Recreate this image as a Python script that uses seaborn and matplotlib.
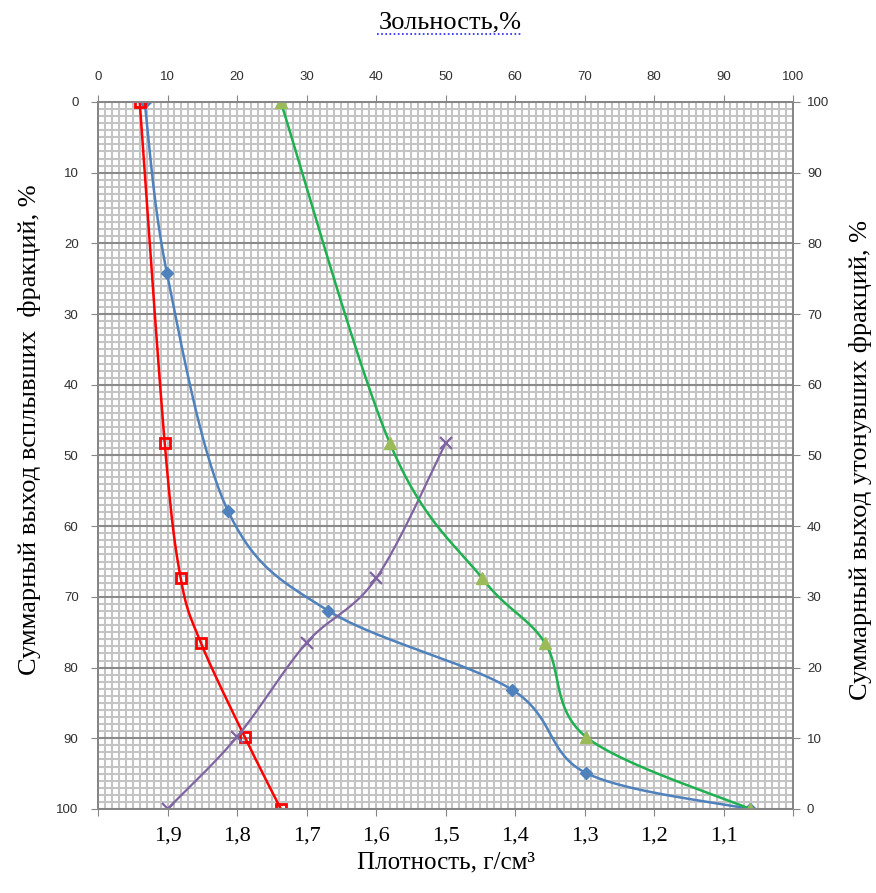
import numpy as np
import matplotlib
matplotlib.use("Agg")
import matplotlib.pyplot as plt
from matplotlib.ticker import MultipleLocator, FixedLocator, FixedFormatter
from matplotlib.lines import Line2D
import seaborn as sns

# cumulative floats yield, %
floats_yield = [0, 48.3, 67.4, 76.5, 89.8, 100]
# cumulative ash of floats (beta), %
floats_ash = [6.0, 9.6, 11.9, 14.8, 21.1, 26.3]
# elementary ash (lambda), plotted at fraction midpoints
elem_yield = [0, 24.15, 57.85, 71.95, 83.15, 94.9, 100]
elem_ash = [6.7, 9.9, 18.7, 33.1, 59.6, 70.2, 93.8]
# cumulative sinks yield and ash (theta)
sinks_yield = [100, 51.7, 32.6, 23.5, 10.2, 0]
sinks_ash = [26.3, 42.0, 55.3, 64.3, 70.2, 93.8]
# density curve (delta)
dens = [1.9, 1.8, 1.7, 1.6, 1.5]
dens_yield = [100, 89.8, 76.5, 67.4, 48.3]

top_ticks = list(range(0, 101, 10))
dens_ticks = [2.0, 1.9, 1.8, 1.7, 1.6, 1.5, 1.4, 1.3, 1.2, 1.1, 1.0]
dens_labels = ['', '1,9', '1,8', '1,7', '1,6', '1,5', '1,4', '1,3', '1,2', '1,1', '']

SERIF = ['Liberation Serif', 'DejaVu Serif']
SANS = ['Liberation Sans', 'DejaVu Sans']
SPINE = '#868686'


def smooth(x, y, n=40):
    # Excel-like smoothed line (Catmull-Rom through the points)
    p = np.column_stack([x, y]).astype(float)
    p = np.vstack([p[0], p, p[-1]])
    out = []
    t = np.linspace(0, 1, n)[:, None]
    for i in range(1, len(p) - 2):
        p0, p1, p2, p3 = p[i - 1], p[i], p[i + 1], p[i + 2]
        c1 = p1 + (p2 - p0) / 6
        c2 = p2 - (p3 - p1) / 6
        seg = (1 - t) ** 3 * p1 + 3 * (1 - t) ** 2 * t * c1 + 3 * (1 - t) * t ** 2 * c2 + t ** 3 * p2
        out.append(seg if i == 1 else seg[1:])
    s = np.vstack(out)
    return s[:, 0], s[:, 1]


fig = plt.figure(figsize=(8.76, 8.93), dpi=100)
ax = fig.add_axes([0.1119, 0.0941, 0.7934, 0.7917])
ax_d = ax.twiny()   # density axis (bottom)
ax_s = ax.twinx()   # sinks yield axis (right)

# elementary ash - blue
bx, by = smooth(elem_ash, elem_yield)
sns.lineplot(x=bx, y=by, sort=False, estimator=None, ax=ax, color='#4f81bd', lw=1.8)
ax.plot(elem_ash, elem_yield, 'D', color='#4f81bd', ms=6)

# floats ash - red
rx, ry = smooth(floats_ash, floats_yield)
sns.lineplot(x=rx, y=ry, sort=False, estimator=None, ax=ax, color='#ff0000', lw=1.8)
ax.plot(floats_ash, floats_yield, 's', mfc='none', mec='#ff0000', mew=2, ms=7)

# sinks ash - green
gx, gy = smooth(sinks_ash, sinks_yield)
sns.lineplot(x=gx, y=gy, sort=False, estimator=None, ax=ax_s, color='#1fb050', lw=1.8)
ax_s.plot(sinks_ash, sinks_yield, '^', color='#9bbb59', ms=9)

# density - purple
px, py = smooth(dens, dens_yield)
sns.lineplot(x=px, y=py, sort=False, estimator=None, ax=ax_d, color='#8064a2', lw=1.6)
ax_d.plot(dens, dens_yield, 'x', color='#8064a2', ms=9, mew=1.6)

# limits
ax.set_xlim(0, 100)
ax.set_ylim(100, 0)
ax_d.set_xlim(2.0, 1.0)
ax_s.set_ylim(0, 100)

# grid
ax.xaxis.set_minor_locator(MultipleLocator(1))
ax.yaxis.set_minor_locator(MultipleLocator(1))
ax.grid(which='minor', color='#c4c4c4', lw=1.5)
ax.grid(which='major', axis='x', color='#c4c4c4', lw=1.5)
ax.grid(which='major', axis='y', color='#8a8a8a', lw=1.5)
ax.set_axisbelow(True)
ax_d.grid(False)
ax_s.grid(False)

# top ash axis
ax.xaxis.tick_top()
ax.set_xticks(top_ticks)
ax.tick_params(axis='x', which='major', direction='out', length=5, color=SPINE,
               labelsize=9.5, pad=9, labelcolor='#303030')
ax.tick_params(axis='y', which='major', direction='out', length=5, color=SPINE,
               labelsize=9.5, pad=9, labelcolor='#303030')
ax.tick_params(which='minor', length=0)
ax.set_yticks(top_ticks)
for lab in ax.get_xticklabels() + ax.get_yticklabels():
    lab.set_family(SANS)

# bottom density axis
ax_d.xaxis.tick_bottom()
ax_d.xaxis.set_label_position('bottom')
ax_d.xaxis.set_major_locator(FixedLocator(dens_ticks))
ax_d.xaxis.set_major_formatter(FixedFormatter(dens_labels))
ax_d.tick_params(axis='x', direction='out', length=5, color=SPINE, labelsize=16, pad=8)
for lab in ax_d.get_xticklabels():
    lab.set_family(SERIF)

# right sinks axis
ax_s.set_yticks(top_ticks)
ax_s.tick_params(axis='y', direction='out', length=5, color=SPINE,
                 labelsize=9.5, pad=5, labelcolor='#303030')
for lab in ax_s.get_yticklabels():
    lab.set_family(SANS)

for a in (ax, ax_d, ax_s):
    for sp in a.spines.values():
        sp.set_color(SPINE)
        sp.set_linewidth(1.2)

# labels
ax.set_xlabel('')
ax.set_ylabel('')
ax_s.set_ylabel('')
ax_d.set_xlabel('Плотность, г/см³', family=SERIF, fontsize=18, labelpad=4)
fig.text(30 / 876, 1 - 430 / 893, 'Суммарный выход всплывших  фракций, %', rotation=90,
         ha='center', va='center', family=SERIF, fontsize=19)
fig.text(861 / 876, 1 - 460 / 893, 'Суммарный выход утонувших фракций, %', rotation=90,
         ha='center', va='center', family=SERIF, fontsize=19)
fig.text(450 / 876, 1 - 22 / 893, 'Зольность,%', ha='center', va='center',
         family=SERIF, fontsize=19)
fig.add_artist(Line2D([377 / 876, 522 / 876], [1 - 34 / 893, 1 - 34 / 893],
                      color='#2020ff', lw=1.2, ls=(0, (1, 1.5))))

fig.savefig('out.png', dpi=100)
